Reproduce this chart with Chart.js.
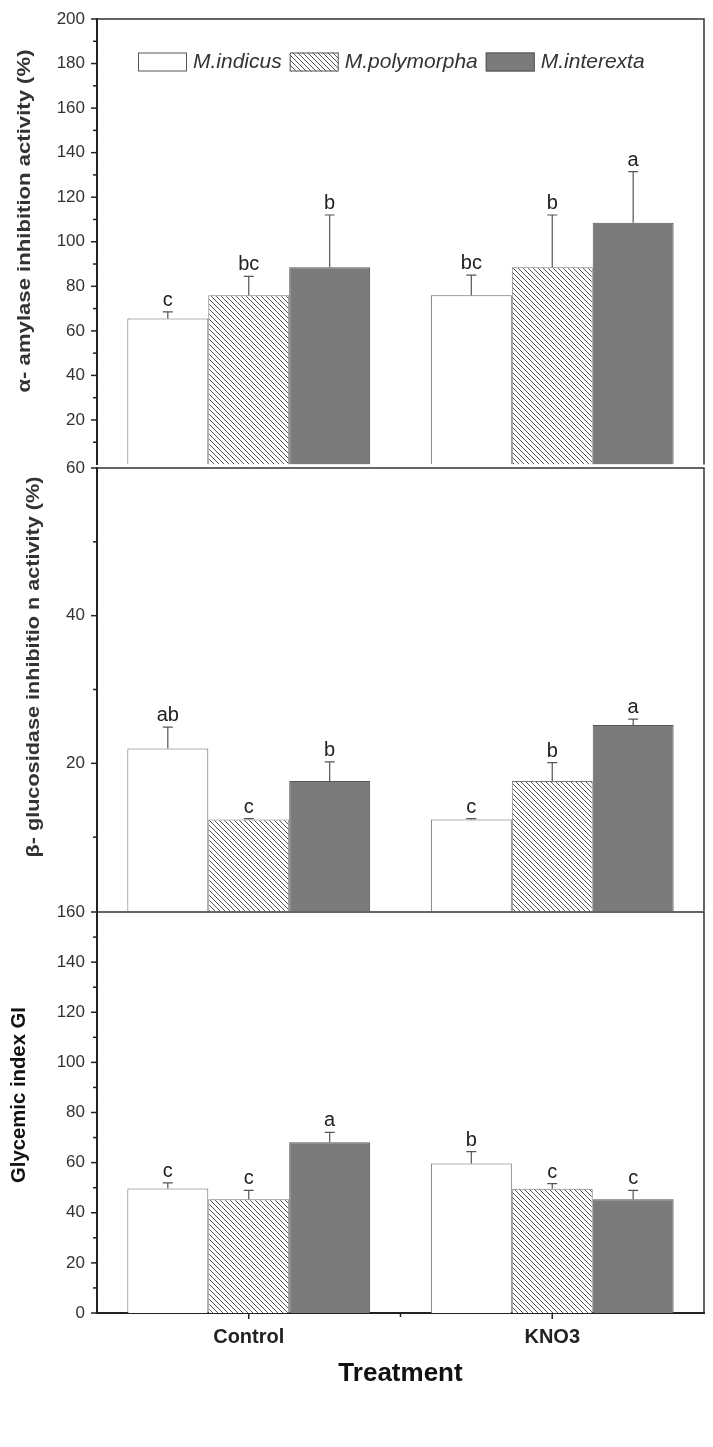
<!DOCTYPE html>
<html lang="en">
<head>
<meta charset="UTF-8">
<title>Inhibition activity and glycemic index</title>
<script src="https://cdn.jsdelivr.net/npm/chart.js"></script>
<style>
    body { margin: 0; background: #fff; }
    .wrap { position: relative; width: 713px; height: 1447px; }
    canvas { position: absolute; left: 0; }
    #amylaseChart { top: 0; width: 713px; height: 470px; }
    #glucosidaseChart { top: 456px; width: 713px; height: 460px; }
    #giChart { top: 900px; width: 713px; height: 547px; }
</style>
</head>
<body>
<div class="wrap">
    <canvas id="amylaseChart" width="713" height="470"></canvas>
    <canvas id="glucosidaseChart" width="713" height="460"></canvas>
    <canvas id="giChart" width="713" height="547"></canvas>
</div>

<script>
    // ---- data ----
    const treatments = ['Control', 'KNO3'];
    const speciesNames = ['M.indicus', 'M.polymorpha', 'M.interexta'];

    // alpha-amylase inhibition activity (%)
    const amylaseIndicus = [65.5, 76];
    const amylasePolymorpha = [76, 88.5];
    const amylaseInterexta = [88.5, 108.5];
    const amylaseErrIndicus = [3, 9];
    const amylaseErrPolymorpha = [8.5, 23.5];
    const amylaseErrInterexta = [23.5, 23];
    const amylaseLetIndicus = ['c', 'bc'];
    const amylaseLetPolymorpha = ['bc', 'b'];
    const amylaseLetInterexta = ['b', 'a'];
    const amylaseTicks = [20, 40, 60, 80, 100, 120, 140, 160, 180, 200];

    // beta-glucosidase inhibition activity (%)
    const glucIndicus = [22, 12.4];
    const glucPolymorpha = [12.4, 17.6];
    const glucInterexta = [17.6, 25.2];
    const glucErrIndicus = [2.9, 0.1];
    const glucErrPolymorpha = [0.1, 2.5];
    const glucErrInterexta = [2.6, 0.8];
    const glucLetIndicus = ['ab', 'c'];
    const glucLetPolymorpha = ['c', 'b'];
    const glucLetInterexta = ['b', 'a'];
    const glucTicks = [20, 40, 60];

    // glycemic index
    const giIndicus = [49.7, 59.7];
    const giPolymorpha = [45.4, 49.6];
    const giInterexta = [68.1, 45.4];
    const giErrIndicus = [2.2, 4.7];
    const giErrPolymorpha = [3.5, 2.0];
    const giErrInterexta = [4.0, 3.5];
    const giLetIndicus = ['c', 'b'];
    const giLetPolymorpha = ['c', 'c'];
    const giLetInterexta = ['a', 'c'];
    const giTicks = [0, 20, 40, 60, 80, 100, 120, 140, 160];

    const FONT = '"Liberation Sans", Arial, sans-serif';

    // diagonal hatch for the second species
    function makeHatch() {
        const s = 5;
        const c = document.createElement('canvas');
        c.width = s; c.height = s;
        const g = c.getContext('2d');
        g.fillStyle = '#fff';
        g.fillRect(0, 0, s, s);
        g.strokeStyle = '#555';
        g.lineWidth = 1;
        g.beginPath();
        g.moveTo(0, 0); g.lineTo(s, s);
        g.moveTo(-1, s - 1); g.lineTo(1, s + 1);
        g.moveTo(s - 1, -1); g.lineTo(s + 1, 1);
        g.stroke();
        return g.createPattern(c, 'repeat');
    }
    const hatch = makeHatch();

    // frame on top/right plus outward major & minor ticks
    const framePlugin = {
        id: 'frame',
        afterDraw(chart, args, opts) {
            const { ctx, chartArea: a } = chart;
            const y = chart.scales.y;
            ctx.save();
            ctx.strokeStyle = '#333';
            ctx.lineWidth = 1.5;
            ctx.beginPath();
            ctx.moveTo(a.left, a.top);
            ctx.lineTo(a.right, a.top);
            ctx.lineTo(a.right, a.bottom);
            ctx.stroke();

            ctx.strokeStyle = '#222';
            for (let v = y.min; v <= y.max; v += 10) {
                if ((opts.skip || []).includes(v)) continue;
                const py = y.getPixelForValue(v);
                const len = v % 20 === 0 ? 6 : 4;
                ctx.beginPath();
                ctx.moveTo(a.left - len, py);
                ctx.lineTo(a.left, py);
                ctx.stroke();
            }

            if (opts.xTicks) {
                const x = chart.scales.x;
                const p0 = x.getPixelForValue(0);
                const p1 = x.getPixelForValue(1);
                [[p0, 6], [p1, 6], [(p0 + p1) / 2, 4]].forEach(([px, len]) => {
                    ctx.beginPath();
                    ctx.moveTo(px, a.bottom);
                    ctx.lineTo(px, a.bottom + len);
                    ctx.stroke();
                });
            }
            ctx.restore();
        }
    };

    // one-sided error bars and significance letters
    const errorPlugin = {
        id: 'errorBars',
        afterDatasetsDraw(chart) {
            const { ctx } = chart;
            const y = chart.scales.y;
            ctx.save();
            chart.data.datasets.forEach((ds, i) => {
                chart.getDatasetMeta(i).data.forEach((bar, j) => {
                    const top = y.getPixelForValue(ds.data[j] + ds.err[j]);
                    ctx.strokeStyle = '#555';
                    ctx.lineWidth = 1.2;
                    ctx.beginPath();
                    ctx.moveTo(bar.x, bar.y);
                    ctx.lineTo(bar.x, top);
                    ctx.moveTo(bar.x - 5, top);
                    ctx.lineTo(bar.x + 5, top);
                    ctx.stroke();
                    ctx.fillStyle = '#222';
                    ctx.font = '20px ' + FONT;
                    ctx.textAlign = 'center';
                    ctx.textBaseline = 'alphabetic';
                    ctx.fillText(ds.letters[j], bar.x, top - 6);
                });
            });
            ctx.restore();
        }
    };

    // legend drawn inside the plot area of the first panel
    const boxLegend = {
        id: 'boxLegend',
        afterDraw(chart, args, opts) {
            if (!opts.show) return;
            const { ctx, chartArea: a } = chart;
            let x = a.left + 41;
            const yc = a.top + 43;
            ctx.save();
            ctx.font = 'italic 21px ' + FONT;
            ctx.textBaseline = 'middle';
            ctx.textAlign = 'left';
            chart.data.datasets.forEach(ds => {
                ctx.fillStyle = ds.backgroundColor;
                ctx.fillRect(x, yc - 9.5, 49, 19);
                ctx.strokeStyle = '#555';
                ctx.lineWidth = 1;
                ctx.strokeRect(x + 0.5, yc - 9, 48, 18);
                x += 49 + 6;
                ctx.fillStyle = '#333';
                ctx.fillText(ds.label, x, yc);
                x += ctx.measureText(ds.label).width + 8;
            });
            ctx.restore();
        }
    };

    // rotated y-axis title, stretched to the length it has in the figure
    const yTitle = {
        id: 'yTitle',
        afterDraw(chart, args, o) {
            const { ctx } = chart;
            ctx.save();
            ctx.font = (o.weight || 'bold') + ' ' + o.size + 'px ' + FONT;
            ctx.fillStyle = o.color;
            ctx.textAlign = 'center';
            ctx.textBaseline = 'middle';
            const w = ctx.measureText(o.text).width;
            ctx.translate(o.x, o.y);
            ctx.rotate(-Math.PI / 2);
            ctx.scale(o.len ? o.len / w : 1, 1);
            ctx.fillText(o.text, 0, 0);
            ctx.restore();
        }
    };

    function makeDatasets(vals, errs, lets) {
        const fills = ['#ffffff', hatch, '#7b7b7b'];
        const borders = ['#666', '#777', '#555'];
        return speciesNames.map((name, k) => ({
            label: name,
            data: vals[k],
            err: errs[k],
            letters: lets[k],
            backgroundColor: fills[k],
            borderColor: borders[k],
            borderWidth: 1,
            categoryPercentage: 0.8,
            barPercentage: 1.0
        }));
    }

    function makePanel(id, p) {
        new Chart(document.getElementById(id), {
            type: 'bar',
            data: { labels: treatments, datasets: p.datasets },
            plugins: [framePlugin, errorPlugin, boxLegend, yTitle],
            options: {
                responsive: false,
                animation: false,
                events: [],
                layout: { padding: { left: 0, right: 9, top: p.padTop, bottom: p.padBottom } },
                plugins: {
                    legend: { display: false },
                    tooltip: { enabled: false },
                    frame: { skip: p.skip, xTicks: p.showX },
                    boxLegend: { show: !!p.legend },
                    yTitle: p.title
                },
                scales: {
                    x: {
                        display: p.showX,
                        offset: true,
                        grid: { display: false, drawTicks: false },
                        border: { display: true, color: '#222', width: 2 },
                        ticks: { padding: 12, color: '#222', font: { family: FONT, size: 20, weight: 'bold' } },
                        title: {
                            display: true,
                            text: 'Treatment',
                            color: '#111',
                            font: { family: FONT, size: 26, weight: 'bold' },
                            padding: { top: 0, bottom: 4 }
                        },
                        afterFit: s => {
                            s.height = p.showX ? 80 : 0;
                            s.paddingLeft = 0;
                            s.paddingRight = 0;
                        }
                    },
                    y: {
                        min: 0,
                        max: p.max,
                        afterBuildTicks: s => { s.ticks = p.ticks.map(v => ({ value: v })); },
                        grid: { display: false, drawTicks: false },
                        border: { display: true, color: '#222', width: 2 },
                        ticks: { padding: 12, color: '#333', font: { family: FONT, size: 17 } },
                        afterFit: s => {
                            s.width = 97;
                            s.paddingTop = 0;
                            s.paddingBottom = 0;
                        }
                    }
                }
            }
        });
    }

    makePanel('amylaseChart', {
        datasets: makeDatasets(
            [amylaseIndicus, amylasePolymorpha, amylaseInterexta],
            [amylaseErrIndicus, amylaseErrPolymorpha, amylaseErrInterexta],
            [amylaseLetIndicus, amylaseLetPolymorpha, amylaseLetInterexta]),
        max: 200, ticks: amylaseTicks, skip: [0],
        padTop: 19, padBottom: 5.5, showX: false, legend: true,
        title: { text: 'α- amylase inhibition activity (%)', x: 25, y: 221, size: 18, color: '#333', len: 343 }
    });

    makePanel('glucosidaseChart', {
        datasets: makeDatasets(
            [glucIndicus, glucPolymorpha, glucInterexta],
            [glucErrIndicus, glucErrPolymorpha, glucErrInterexta],
            [glucLetIndicus, glucLetPolymorpha, glucLetInterexta]),
        max: 60, ticks: glucTicks, skip: [0],
        padTop: 12, padBottom: 5, showX: false, legend: false,
        title: { text: 'β- glucosidase inhibitio n activity (%)', x: 34, y: 211, size: 18, color: '#333', len: 381 }
    });

    makePanel('giChart', {
        datasets: makeDatasets(
            [giIndicus, giPolymorpha, giInterexta],
            [giErrIndicus, giErrPolymorpha, giErrInterexta],
            [giLetIndicus, giLetPolymorpha, giLetInterexta]),
        max: 160, ticks: giTicks, skip: [],
        padTop: 12, padBottom: 54, showX: true, legend: false,
        title: { text: 'Glycemic index GI', x: 19, y: 195, size: 20, color: '#111', len: 176 }
    });
</script>
</body>
</html>
